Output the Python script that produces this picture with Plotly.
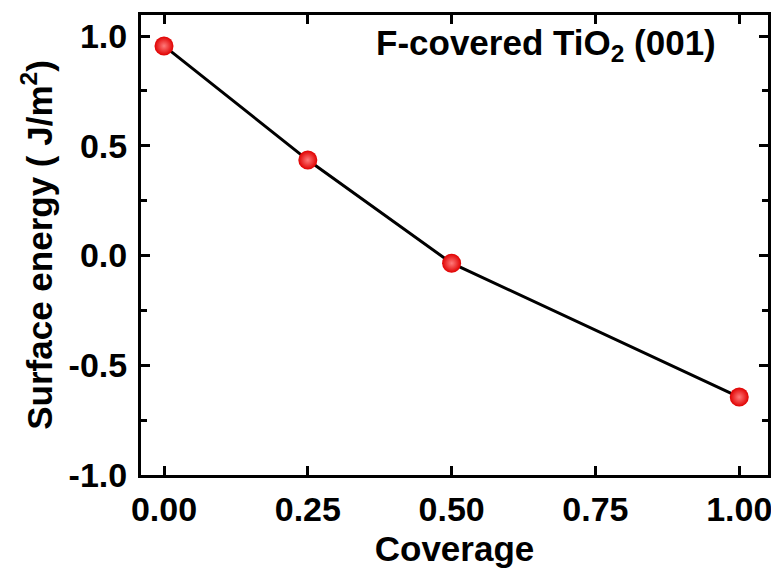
import plotly.graph_objects as go

coverage = [0.0, 0.25, 0.5, 1.0]
surface_energy = [0.955, 0.435, -0.035, -0.645]

x_ticks = [0.0, 0.25, 0.5, 0.75, 1.0]
x_tick_labels = ["0.00", "0.25", "0.50", "0.75", "1.00"]
y_ticks = [-1.0, -0.5, 0.0, 0.5, 1.0]
y_tick_labels = ["-1.0", "-0.5", "0.0", "0.5", "1.0"]

FONT = "Liberation Sans, Arial, sans-serif"

fig = go.Figure()
fig.add_trace(go.Scatter(
    x=coverage, y=surface_energy, mode="lines+markers",
    line=dict(color="black", width=3),
    marker=dict(size=19, color="#e00000",
                gradient=dict(type="radial", color="#ff7a7a"),
                line=dict(width=0)),
    showlegend=False,
))

axis_common = dict(
    showline=True, linecolor="black", linewidth=3, mirror="allticks",
    ticks="inside", ticklen=9, tickwidth=3, tickcolor="black",
    showgrid=False, zeroline=False, automargin=False,
    tickfont=dict(family=FONT, size=34, color="black", weight="bold"),
)

fig.update_xaxes(
    range=[-0.04, 1.05], tickvals=x_ticks, ticktext=x_tick_labels,
    ticklabelstandoff=2,
    title=dict(text="<b>Coverage</b>", font=dict(family=FONT, size=35, color="black"), standoff=10),
    **axis_common,
)
fig.update_yaxes(
    range=[-1.0, 1.096], tickvals=y_ticks, ticktext=y_tick_labels,
    ticklabelstandoff=4,
    minor=dict(ticks="inside", ticklen=6, tickwidth=3, tickcolor="black", dtick=0.25, showgrid=False),
    title=dict(text="<b>Surface energy ( J/m<sup>2</sup>)</b>", font=dict(family=FONT, size=35, color="black"), standoff=6),
    **axis_common,
)

fig.add_annotation(
    x=0.92, y=0.987, xref="paper", yref="paper", xanchor="right", yanchor="top",
    text="<b>F-covered TiO<sub>2</sub> (001)</b>", showarrow=False,
    font=dict(family=FONT, size=35, color="black"),
)

fig.update_layout(
    width=771, height=563,
    margin=dict(l=133, r=11, t=7, b=96),
    plot_bgcolor="white", paper_bgcolor="white",
)

fig.write_html("out.html")
